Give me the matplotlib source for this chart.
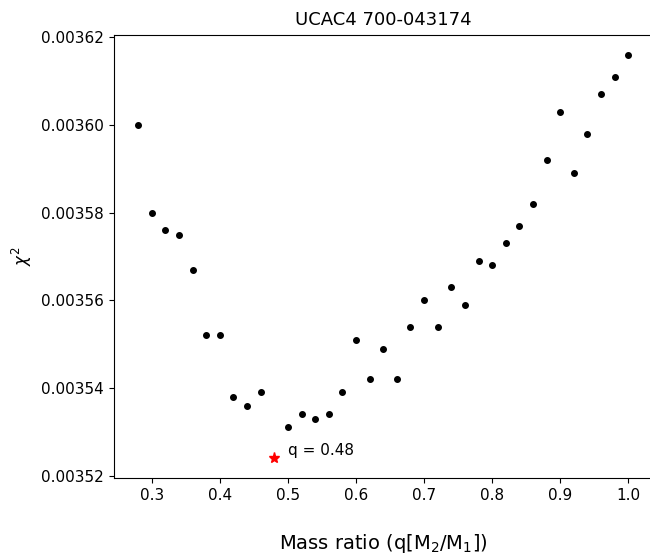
import matplotlib
matplotlib.use("Agg")
import matplotlib.pyplot as plt

q = [0.28, 0.30, 0.32, 0.34, 0.36, 0.38, 0.40, 0.42, 0.44, 0.46,
     0.50, 0.52, 0.54, 0.56, 0.58, 0.60, 0.62, 0.64, 0.66, 0.68,
     0.70, 0.72, 0.74, 0.76, 0.78, 0.80, 0.82, 0.84, 0.86, 0.88,
     0.90, 0.92, 0.94, 0.96, 0.98, 1.00]
chi2 = [0.003600, 0.003580, 0.003576, 0.003575, 0.003567, 0.003552, 0.003552, 0.003538, 0.003536, 0.003539,
        0.003531, 0.003534, 0.003533, 0.003534, 0.003539, 0.003551, 0.003542, 0.003549, 0.003542, 0.003554,
        0.003560, 0.003554, 0.003563, 0.003559, 0.003569, 0.003568, 0.003573, 0.003577, 0.003582, 0.003592,
        0.003603, 0.003589, 0.003598, 0.003607, 0.003611, 0.003616]
best_q = [0.48]
best_chi2 = [0.003524]
title = "UCAC4 700-043174"

fig = plt.figure(figsize=(6.5, 5.55), dpi=100)
ax = fig.add_axes([0.1748, 0.1382, 0.8295, 0.7993])
ax.scatter(q, chi2, s=16, color="black", zorder=3)
ax.plot(best_q, best_chi2, marker="*", color="red", markersize=8, linestyle="none", zorder=3)
ax.text(0.50, best_chi2[0], "q = 0.48", fontsize=11, ha="left", va="bottom")

ax.set_yticks([0.00352, 0.00354, 0.00356, 0.00358, 0.00360, 0.00362])
ax.set_yticklabels(["0.00352", "0.00354", "0.00356", "0.00358", "0.00360", "0.00362"])
ax.set_xticks([0.3, 0.4, 0.5, 0.6, 0.7, 0.8, 0.9, 1.0])
ax.tick_params(labelsize=11)
ax.set_title(title, fontsize=13, pad=7)
ax.set_xlabel("Mass ratio (q[M$_2$/M$_1$])", fontsize=14, labelpad=21)
ax.set_ylabel("$\\chi^2$", fontsize=12, labelpad=5)

fig.savefig("out.png", dpi=100)
